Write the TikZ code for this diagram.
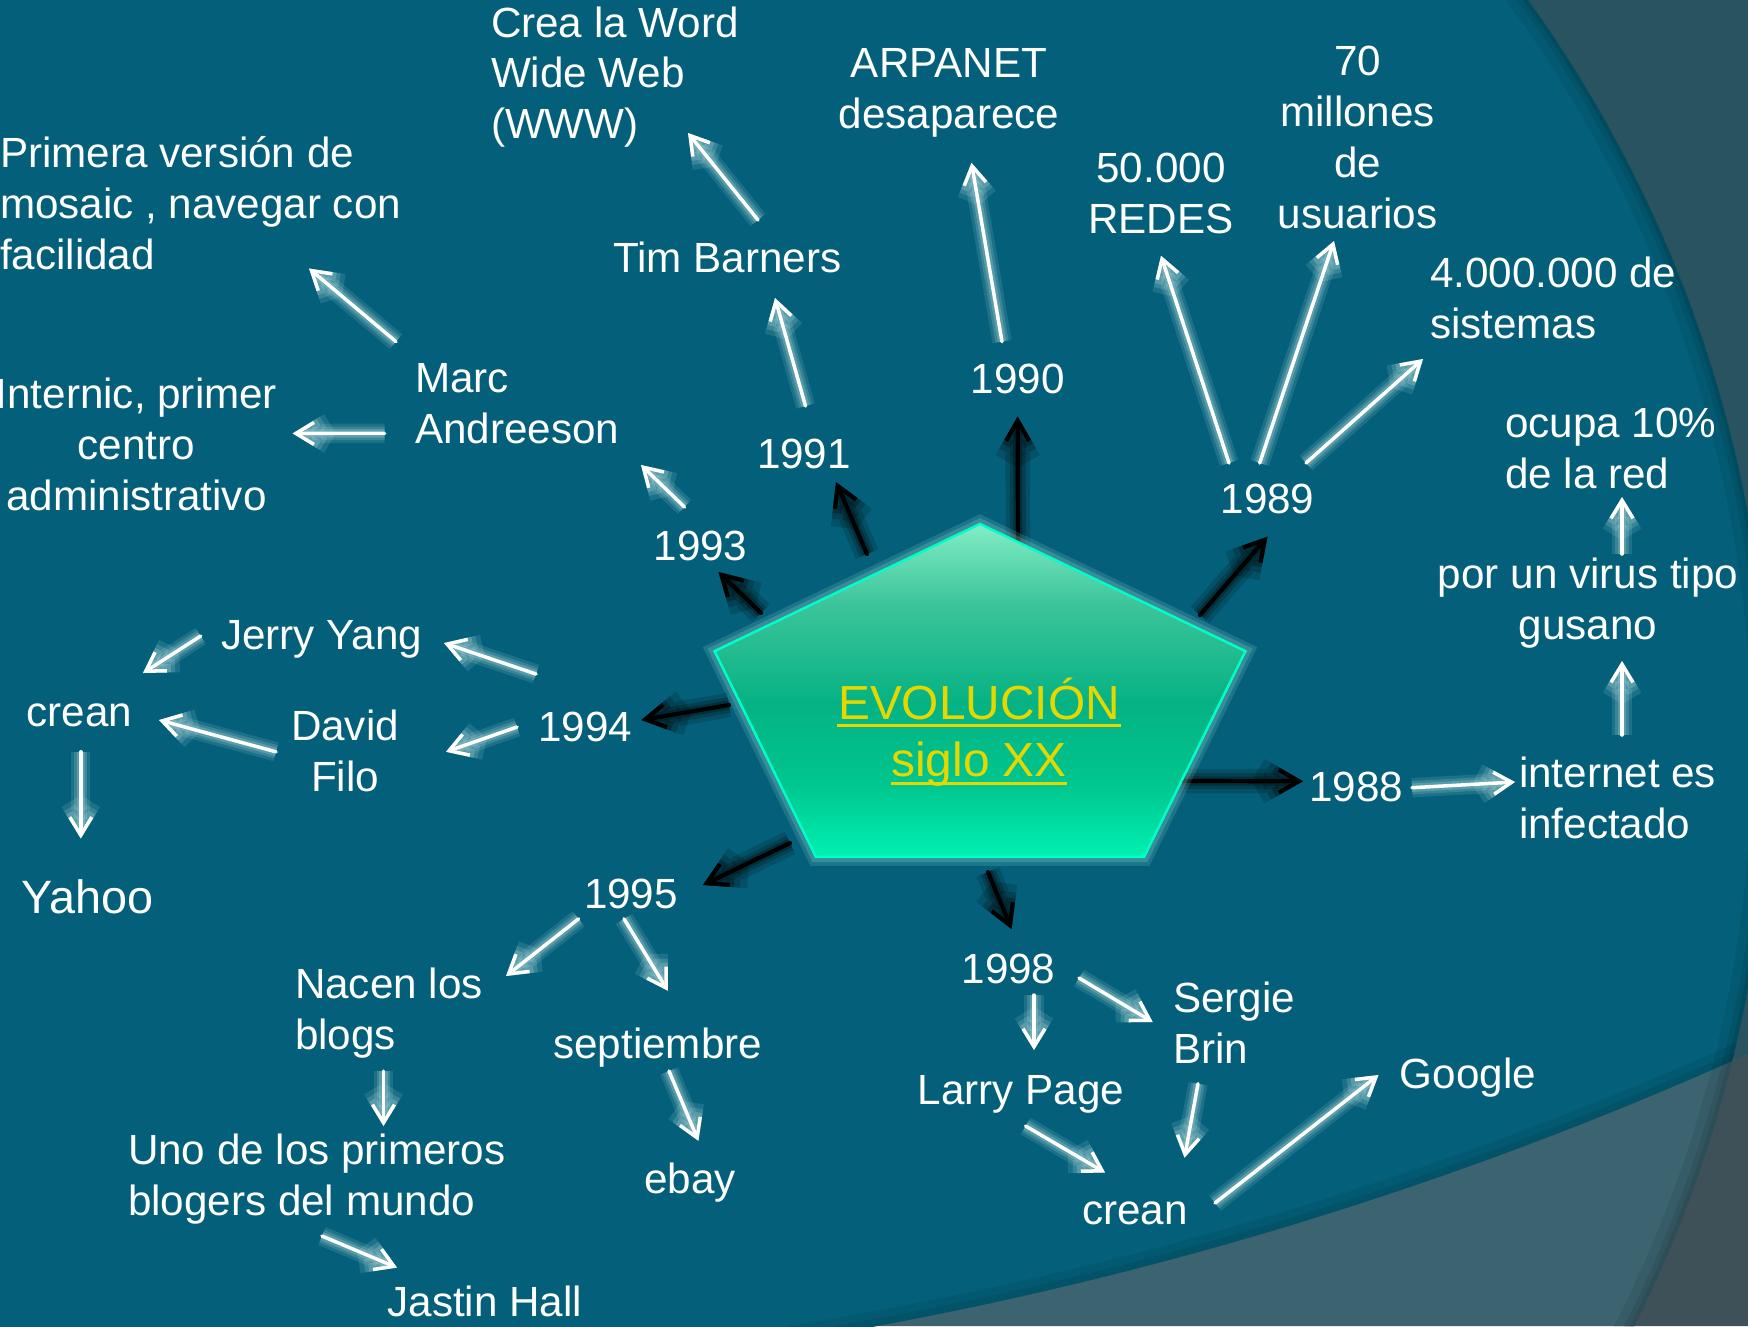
\documentclass[tikz,border=0pt]{standalone}
\usepackage{fontspec}
\setmainfont{Liberation Sans}
\usetikzlibrary{arrows.meta,shapes.geometric}
\definecolor{bgT}{RGB}{4,96,122}
\definecolor{bgS}{RGB}{40,83,95}
\definecolor{bgB}{RGB}{59,99,112}
\definecolor{bgG}{RGB}{62,81,89}
\definecolor{yel}{RGB}{228,216,0}
\definecolor{wglow}{RGB}{205,238,238}
\definecolor{pglow}{RGB}{140,215,205}
\definecolor{pline}{RGB}{0,255,200}
\definecolor{pB}{RGB}{0,240,178}
\definecolor{pQ}{RGB}{0,198,142}
\definecolor{pM}{RGB}{5,178,131}
\definecolor{pU}{RGB}{60,196,154}
\definecolor{pT}{RGB}{130,237,198}
\pgfdeclareverticalshading{pentsh}{100bp}{color(0bp)=(pB); color(25bp)=(pB); color(36bp)=(pQ); color(48bp)=(pM); color(63bp)=(pU); color(75bp)=(pT); color(100bp)=(pT)}
\pgfdeclarelayer{bgl}
\pgfdeclarelayer{arrl}
\pgfsetlayers{bgl,arrl,main}
\begin{document}
\begin{tikzpicture}[x=0.01cm,y=-0.01cm,
  t/.style={text=white, inner sep=0pt, outer sep=0pt, font=\fontsize{12}{14.43}\selectfont},
  tc/.style={t, align=center, anchor=base},
  tl/.style={t, align=left, anchor=base west},
  titl/.style={text=yel, inner sep=0pt, anchor=base, font=\fontsize{13.6}{16.2}\selectfont},
  uline/.style={draw=yel, line width=0.95pt},
  hubsty/.style={regular polygon, regular polygon sides=5, minimum size=3.68cm, inner sep=0pt, outer sep=0pt, xscale=1.516, shade, shading=pentsh, draw=pline, line width=0.7pt, preaction={draw=pglow, line width=5pt, opacity=0.18}, preaction={draw=pglow, line width=3pt, opacity=0.25}},
  barr/.style={draw=black, line width=1.2pt, line cap=round, line join=round, -{Straight Barb[length=2mm,width=2.3mm]}, preaction={draw=black, opacity=0.15, line width=7pt}, preaction={draw=black, opacity=0.2, line width=4.5pt}, preaction={draw=black, opacity=0.25, line width=2.6pt}},
  warr/.style={draw=white, line width=1pt, line cap=round, line join=round, -{Straight Barb[length=1.8mm,width=2.2mm]}, preaction={draw=wglow, opacity=0.12, line width=5.5pt}, preaction={draw=wglow, opacity=0.16, line width=3.8pt}, preaction={draw=wglow, opacity=0.22, line width=2.4pt}}
]
\useasboundingbox (0,0) rectangle (1748,1326);
% background
\begin{pgfonlayer}{bgl}
  \fill[bgS] (0,0) rectangle (1748,1326);
  \fill[bgG, even odd rule] (0,0) rectangle (1748,1326) (173.6,-2451.8) circle[radius=3842];
  \begin{scope}
    \clip (483.3,750.8) circle[radius=1286.5];
    \fill[bgB] (0,0) rectangle (1748,1326);
    \fill[bgT] (173.6,-2451.8) circle[radius=3842];
    \begin{scope}
      \clip (173.6,-2451.8) circle[radius=3842];
      \draw[black, opacity=0.07, line width=0.30cm] (173.6,-2451.8) circle[radius=3842];
      \draw[black, opacity=0.08, line width=0.14cm] (173.6,-2451.8) circle[radius=3842];
    \end{scope}
    \draw[black, opacity=0.07, line width=0.36cm] (483.3,750.8) circle[radius=1286.5];
    \draw[black, opacity=0.08, line width=0.18cm] (483.3,750.8) circle[radius=1286.5];
    \draw[black, opacity=0.08, line width=0.08cm] (483.3,750.8) circle[radius=1286.5];
  \end{scope}
\end{pgfonlayer}
% central pentagon
\node[hubsty] (hub) at (980,708) {};
\node[titl] (evo1) at (979,719) {EVOLUCIÓN};
\node[titl] (evo2) at (979,776) {siglo XX};
\draw[uline] ([shift={(0,6.6)}]evo1.base west) -- ([shift={(0,6.6)}]evo1.base east);
\draw[uline] ([shift={(0,7.5)}]evo2.base west) -- ([shift={(0,7.5)}]evo2.base east);
% year nodes
\node[tc] (n1990) at (1017.6,393) {1990};
\node[tc] (n1991) at (804,468.5) {1991};
\node[tc] (n1993) at (700.5,560) {1993};
\node[tc] (n1989) at (1267.5,513.7) {1989};
\node[tc] (n1994) at (585.3,741) {1994};
\node[tc] (n1988) at (1356,801.7) {1988};
\node[tc] (n1995) at (631,908) {1995};
\node[tc] (n1998) at (1008.5,983) {1998};
% other text nodes (multi-line nodes are placed by the baseline of their last line)
\node[tc] (tim) at (727.5,272.7) {Tim Barners};
\node[tc] (jerry) at (321.5,649) {Jerry Yang};
\node[tc] (creanL) at (79.5,726.4) {crean};
\node[tc, font=\fontsize{13.3}{16}\selectfont] (yahoo) at (87.8,913.3) {Yahoo};
\node[tc] (sept) at (657.7,1058) {septiembre};
\node[tc] (ebay) at (690,1193.6) {ebay};
\node[tc] (jastin) at (484.9,1316) {Jastin Hall};
\node[tc] (larry) at (1021,1104) {Larry Page};
\node[tc] (google) at (1468,1088) {Google};
\node[tc] (creanB) at (1135,1224.5) {crean};
\node[tc] (arpanet) at (949,128.1) {ARPANET\\desaparece};
\node[tc] (millones) at (1357.6,228.1) {70\\millones\\de\\usuarios};
\node[tc] (redes) at (1161,233.3) {50.000\\REDES};
\node[tc] (internic) at (136.4,510.4) {Internic, primer\\centro\\administrativo};
\node[tc] (virus) at (1588,639.7) {por un virus tipo\\gusano};
\node[tc] (david) at (345,791.7) {David\\Filo};
\node[tl] (crea) at (491,138.6) {Crea la Word\\Wide Web\\(WWW)};
\node[tl] (primera) at (0,269.4) {Primera versión de\\mosaic , navegar con\\facilidad};
\node[tl] (marc) at (415,443.7) {Marc\\Andreeson};
\node[tl] (sistemas) at (1430,338.2) {4.000.000 de\\sistemas};
\node[tl] (ocupa) at (1505,488.3) {ocupa 10\%\\de la red};
\node[tl] (internet) at (1519,838.4) {internet es\\infectado};
\node[tl] (nacen) at (295,1049.7) {Nacen los\\blogs};
\node[tl] (sergie) at (1173,1063.7) {Sergie\\Brin};
\node[tl] (uno) at (128,1215.7) {Uno de los primeros\\blogers del mundo};
% black arrows from the hub (behind the pentagon)
\begin{pgfonlayer}{arrl}
  \draw[barr] ([shift={(-219,-95)}]hub.center) -- ([shift={(18,12)}]n1993.base);
  \draw[barr] ([shift={(-113,-154)}]hub.center) -- ([shift={(32,13.5)}]n1991.base);
  \draw[barr] ([shift={(38,-160)}]hub.center) -- ([shift={(0,23.5)}]n1990.base);
  \draw[barr] ([shift={(220,-93)}]hub.center) -- ([shift={(0,23)}]n1989.base);
  \draw[barr] ([shift={(-251,-3)}]hub.center) -- ([shift={(56,-21)}]n1994.base);
  \draw[barr] ([shift={(190,73)}]hub.center) -- ([shift={(-53,-20.5)}]n1988.base);
  \draw[barr] ([shift={(-190,135)}]hub.center) -- ([shift={(72,-23)}]n1995.base);
  \draw[barr] ([shift={(8,164)}]hub.center) -- ([shift={(3,-54)}]n1998.base);
\end{pgfonlayer}
% white arrows
\draw[warr] ([shift={(30.5,-52.7)}]tim.base) -- ([shift={(197,-5.6)}]crea.base west);
\draw[warr] ([shift={(1.5,-62.5)}]n1991.base) -- ([shift={(47.5,25.3)}]tim.base);
\draw[warr] ([shift={(-15.6,-51.4)}]n1990.base) -- ([shift={(22.5,34.7)}]arpanet.base);
\draw[warr] ([shift={(-38.5,-50.7)}]n1989.base) -- ([shift={(0,22.5)}]redes.base);
\draw[warr] ([shift={(-7.8,-50.7)}]n1989.base) -- ([shift={(-23.6,12.9)}]millones.base);
\draw[warr] ([shift={(38.5,-50.7)}]n1989.base) -- ([shift={(-7,20.8)}]sistemas.base west);
\draw[warr] ([shift={(-19,-102.1)}]marc.base west) -- ([shift={(309,-0.9)}]primera.base west);
\draw[warr] ([shift={(-30.4,-10.3)}]marc.base west) -- ([shift={(156.2,-77)}]internic.base);
\draw[warr] ([shift={(-16,-53)}]n1993.base) -- ([shift={(226,21.3)}]marc.base west);
\draw[warr] ([shift={(-49.3,-67)}]n1994.base) -- ([shift={(122.5,-6)}]jerry.base);
\draw[warr] ([shift={(-68.3,-14)}]n1994.base) -- ([shift={(101,-39.9)}]david.base);
\draw[warr] ([shift={(-120.8,-13)}]jerry.base) -- ([shift={(63.5,-53.4)}]creanL.base);
\draw[warr] ([shift={(-69,-39.9)}]david.base) -- ([shift={(79.5,-6.4)}]creanL.base);
\draw[warr] ([shift={(1.3,25.4)}]creanL.base) -- ([shift={(-7,-74.8)}]yahoo.base);
\draw[warr] ([shift={(56,-14)}]n1988.base) -- ([shift={(-4,-56.4)}]internet.base west);
\draw[warr] ([shift={(103,-103.4)}]internet.base west) -- ([shift={(34,21.3)}]virus.base);
\draw[warr] ([shift={(34,-85.7)}]virus.base) -- ([shift={(117,8.7)}]ocupa.base west);
\draw[warr] ([shift={(-52.4,10.8)}]n1995.base) -- ([shift={(211,-73.7)}]nacen.base west);
\draw[warr] ([shift={(-7,10.8)}]n1995.base) -- ([shift={(10.1,-67.3)}]sept.base);
\draw[warr] ([shift={(88.5,21.3)}]nacen.base west) -- ([shift={(255.5,-89.7)}]uno.base west);
\draw[warr] ([shift={(11.3,13)}]sept.base) -- ([shift={(8.4,-52.8)}]ebay.base);
\draw[warr] ([shift={(194,20.3)}]uno.base west) -- ([shift={(-87.9,-48.4)}]jastin.base);
\draw[warr] ([shift={(25.5,12)}]n1998.base) -- ([shift={(13,-54)}]larry.base);
\draw[warr] ([shift={(70.5,-5)}]n1998.base) -- ([shift={(-20.3,-41.7)}]sergie.base west);
\draw[warr] ([shift={(25,20)}]sergie.base west) -- ([shift={(49.5,-66.8)}]creanB.base);
\draw[warr] ([shift={(4.6,22)}]larry.base) -- ([shift={(-30,-52)}]creanB.base);
\draw[warr] ([shift={(80,-21.5)}]creanB.base) -- ([shift={(-89.5,-13)}]google.base);
\end{tikzpicture}
\end{document}
